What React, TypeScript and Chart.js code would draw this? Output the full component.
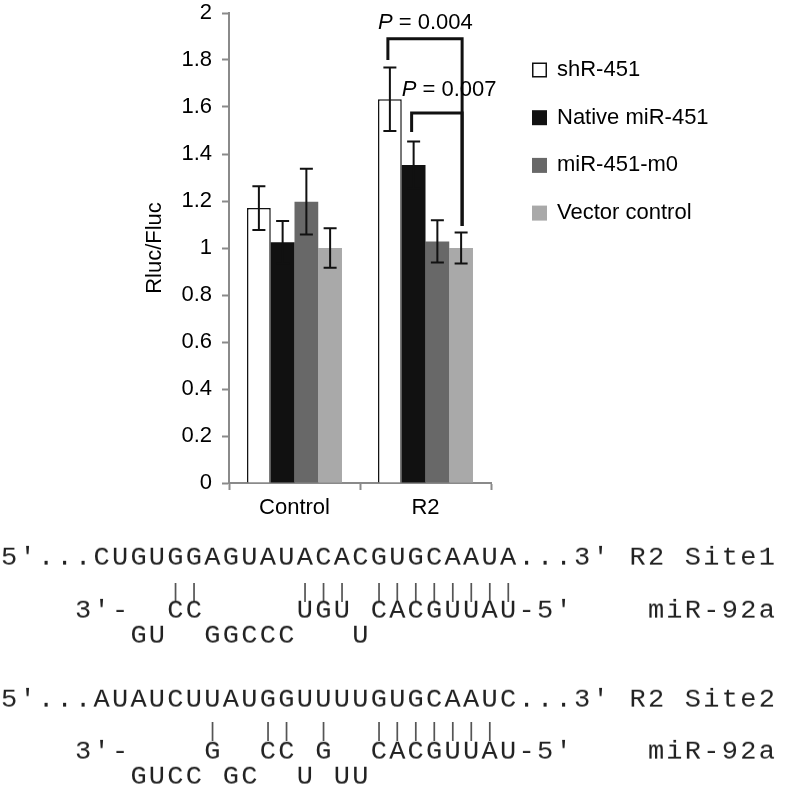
import React, { useEffect, useRef } from 'react';
import { Chart, registerables } from 'chart.js';

Chart.register(...registerables);

// ---------- data ----------
const categories = ['Control', 'R2'];
const seriesNames = ['shR-451', 'Native miR-451', 'miR-451-m0', 'Vector control'];
const shR451 = [1.17, 1.633];
const shR451Err = [0.093, 0.135];
const nativeMiR451 = [1.025, 1.353];
const nativeMiR451Err = [0.09, 0.1];
const miR451m0 = [1.197, 1.028];
const miR451m0Err = [0.14, 0.09];
const vectorControl = [1.0, 1.0];
const vectorControlErr = [0.084, 0.066];
const yTickLabels = ['0', '0.2', '0.4', '0.6', '0.8', '1', '1.2', '1.4', '1.6', '1.8', '2'];

// significance brackets (on category "R2")
const bracketCategory = 1;
const bracketFrom = [0, 1];
const bracketTo = [3, 3];
const bracketTop = [1.89, 1.574];
const bracketLeftEnd = [1.8, 1.494];
const bracketRightEnd = [1.094, 1.094];
const pValueLabels = ['0.004', '0.007'];
const pLabelY = [1.958, 1.672];

// sequence alignments
const site1Rows = [
  '5′...CUGUGGAGUAUACACGUGCAAUA...3′ R2 Site1',
  '         ||     ||| ||||||||',
  '    3′-  CC     UGU CACGUUAU-5′    miR-92a',
  '       GU  GGCCC   U',
];
const site2Rows = [
  '5′...AUAUCUUAUGGUUUUGUGCAAUC...3′ R2 Site2',
  '           |  || |  |||||||',
  '    3′-    G  CC G  CACGUUAU-5′    miR-92a',
  '       GUCC GC  U UU',
];

// ---------- styles ----------
const seriesColors = ['#ffffff', '#111111', '#686868', '#a9a9a9'];
const AXIS = '#8a8a8a';
const SANS = '"Liberation Sans", Arial, Helvetica, sans-serif';
const MONO = '"Liberation Mono", "DejaVu Sans Mono", monospace';
const site1Y = [558, 592, 611, 636];
const site2Y = [700, 731, 752, 777];
const CELL = 18.48;
const MONO_SIZE = 27;
const PIPE_SIZE = 21;

const seriesValues = [shR451, nativeMiR451, miR451m0, vectorControl];
const seriesErrors = [shR451Err, nativeMiR451Err, miR451m0Err, vectorControlErr];

Chart.defaults.font.family = SANS;

const overlayPlugin = {
  id: 'overlay',
  afterDatasetsDraw(chart: any) {
    const ctx = chart.ctx;
    const y = chart.scales.y;
    ctx.save();
    // error bars
    ctx.strokeStyle = '#111';
    ctx.lineWidth = 2;
    chart.data.datasets.forEach((ds: any, di: number) => {
      const meta = chart.getDatasetMeta(di);
      meta.data.forEach((bar: any, i: number) => {
        const v = seriesValues[di][i];
        const e = seriesErrors[di][i];
        const x = bar.x;
        const yt = y.getPixelForValue(v + e);
        const yb = y.getPixelForValue(v - e);
        ctx.beginPath();
        ctx.moveTo(x, yt);
        ctx.lineTo(x, yb);
        ctx.moveTo(x - 6.5, yt);
        ctx.lineTo(x + 6.5, yt);
        ctx.moveTo(x - 6.5, yb);
        ctx.lineTo(x + 6.5, yb);
        ctx.stroke();
      });
    });
    // significance brackets
    ctx.lineWidth = 3;
    ctx.lineJoin = 'miter';
    ctx.strokeStyle = '#111';
    for (let k = 0; k < bracketFrom.length; k++) {
      const bl = chart.getDatasetMeta(bracketFrom[k]).data[bracketCategory];
      const br = chart.getDatasetMeta(bracketTo[k]).data[bracketCategory];
      const xl = bl.x - 2;
      const xr = br.x + 1;
      ctx.beginPath();
      ctx.moveTo(xl, y.getPixelForValue(bracketLeftEnd[k]));
      ctx.lineTo(xl, y.getPixelForValue(bracketTop[k]));
      ctx.lineTo(xr, y.getPixelForValue(bracketTop[k]));
      ctx.lineTo(xr, y.getPixelForValue(bracketRightEnd[k]));
      ctx.stroke();
      // label
      const lx = bl.x - bl.width / 2;
      const ly = y.getPixelForValue(pLabelY[k]);
      ctx.fillStyle = '#000';
      ctx.textBaseline = 'middle';
      ctx.textAlign = 'left';
      ctx.font = `italic 22px ${SANS}`;
      ctx.fillText('P', lx, ly);
      const pw = ctx.measureText('P').width;
      ctx.font = `22px ${SANS}`;
      ctx.fillText(' = ' + pValueLabels[k], lx + pw, ly);
    }
    ctx.restore();
  },
  afterDraw(chart: any) {
    const ctx = chart.ctx;
    ctx.save();
    const lx = 532;
    const ly0 = 70;
    const ldy = 47.7;
    const box = 15;
    chart.data.datasets.forEach((ds: any, i: number) => {
      const cy = ly0 + i * ldy;
      ctx.fillStyle = ds.backgroundColor;
      ctx.fillRect(lx, cy - box / 2, box, box);
      if (ds.borderWidth) {
        ctx.strokeStyle = '#111';
        ctx.lineWidth = 1.5;
        ctx.strokeRect(lx + 0.75, cy - box / 2 + 0.75, box - 1.5, box - 1.5);
      }
      ctx.fillStyle = '#000';
      ctx.font = `22px ${SANS}`;
      ctx.textBaseline = 'middle';
      ctx.textAlign = 'left';
      ctx.fillText(ds.label, lx + box + 10, cy);
    });
    ctx.restore();
  },
};

function SeqRow({ text, top, pipe }: { text: string; top: number; pipe: boolean }) {
  const size = pipe ? PIPE_SIZE : MONO_SIZE;
  const adv = size * 0.6;
  const ls = CELL - adv;
  return (
    <div
      style={{
        position: 'absolute',
        left: ls / 2,
        top: top - size / 2,
        height: size,
        fontFamily: MONO,
        fontSize: size,
        lineHeight: `${size}px`,
        letterSpacing: ls,
        whiteSpace: 'pre',
        color: pipe ? '#555' : '#222',
        transform: pipe ? 'scaleY(1)' : 'scaleY(0.94)',
        transformOrigin: '50% 50%',
        willChange: 'transform',
      }}
    >
      {text}
    </div>
  );
}

export default function App() {
  const ref = useRef<HTMLCanvasElement>(null);
  useEffect(() => {
    const chart = new Chart(ref.current as HTMLCanvasElement, {
      type: 'bar',
      data: {
        labels: categories,
        datasets: seriesNames.map((name, i) => ({
          label: name,
          data: seriesValues[i],
          backgroundColor: seriesColors[i],
          borderColor: '#111',
          borderWidth: i === 0 ? 1.5 : 0,
          categoryPercentage: 0.725,
          barPercentage: 1.0,
        })),
      },
      options: {
        responsive: false,
        animation: false,
        events: [],
        layout: { padding: { left: 0, right: 295, top: 13, bottom: 0 } },
        plugins: { legend: { display: false }, tooltip: { enabled: false } },
        scales: {
          x: {
            grid: {
              display: true,
              drawOnChartArea: false,
              drawTicks: true,
              tickLength: 7,
              tickWidth: 2,
              tickColor: AXIS,
              offset: true,
            },
            border: { display: true, color: AXIS, width: 2 },
            ticks: { color: '#000', font: { size: 22 }, padding: 5 },
            afterFit: (s: any) => {
              s.height = 47;
              s.paddingLeft = 0;
              s.paddingRight = 0;
            },
          },
          y: {
            min: 0,
            max: 2,
            ticks: {
              stepSize: 0.2,
              color: '#000',
              font: { size: 22 },
              padding: 10,
              callback: (_v: any, i: number) => yTickLabels[i],
            },
            grid: {
              display: true,
              drawOnChartArea: false,
              drawTicks: true,
              tickLength: 7,
              tickWidth: 2,
              tickColor: AXIS,
            },
            border: { display: true, color: AXIS, width: 2 },
            title: {
              display: true,
              text: 'Rluc/Fluc',
              color: '#000',
              font: { size: 22 },
              padding: { top: 142, bottom: 0 },
            },
            afterFit: (s: any) => {
              s.width = 229;
              s.paddingTop = 0;
              s.paddingBottom = 0;
            },
          },
        },
      } as any,
      plugins: [overlayPlugin],
    });
    return () => chart.destroy();
  }, []);

  return (
    <div
      style={{
        position: 'absolute',
        left: 0,
        top: 0,
        width: 786,
        height: 789,
        background: '#fff',
        overflow: 'hidden',
      }}
    >
      <canvas
        ref={ref}
        width={786}
        height={530}
        style={{ position: 'absolute', left: 0, top: 0, width: 786, height: 530 }}
      />
      {site1Rows.map((t, i) => (
        <SeqRow key={'a' + i} text={t} top={site1Y[i]} pipe={i === 1} />
      ))}
      {site2Rows.map((t, i) => (
        <SeqRow key={'b' + i} text={t} top={site2Y[i]} pipe={i === 1} />
      ))}
    </div>
  );
}
